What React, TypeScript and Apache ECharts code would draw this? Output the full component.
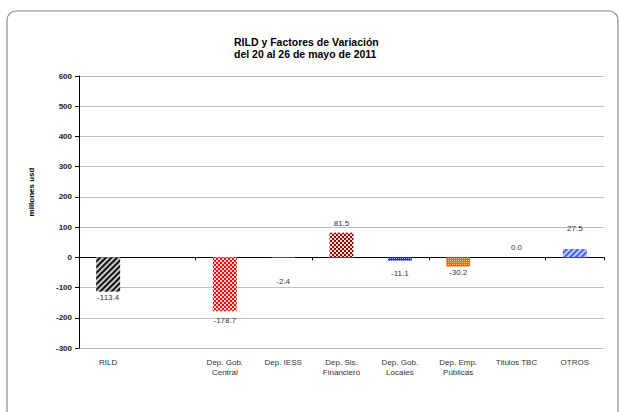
import React, { useEffect, useRef } from "react";
import * as echarts from "echarts";

const categories = [
  "RILD",
  "",
  "Dep. Gob.\nCentral",
  "Dep. IESS",
  "Dep. Sis.\nFinanciero",
  "Dep. Gob.\nLocales",
  "Dep. Emp.\nPúblicas",
  "Titulos TBC",
  "OTROS",
];
const values: (number | null)[] = [-113.4, null, -178.7, -2.4, 81.5, -11.1, -30.2, 0.0, 27.5];
const yTicks = { min: -300, max: 600, interval: 100 };

const FONT = "'Liberation Sans', Arial, sans-serif";

const hatch = (color: string, w: number, gap: number) => ({
  symbol: "rect",
  symbolSize: 1,
  color,
  dashArrayX: [1, 0],
  dashArrayY: [w, gap],
  rotation: -Math.PI / 4,
});
const checker = (color: string) => ({
  symbol: "rect",
  symbolSize: 1,
  color,
  dashArrayX: [[2, 2], [0, 2, 2, 0]],
  dashArrayY: [2, 0],
  rotation: 0,
});
const dots = (color: string) => ({
  symbol: "rect",
  symbolSize: 1,
  color,
  dashArrayX: [1, 1],
  dashArrayY: [1, 1],
  rotation: 0,
});

const barStyles: any[] = [
  { color: "#c8c8c8", decal: hatch("#111111", 1.5, 1.2) },
  { color: "#ffffff" },
  { color: "#ffd0d0", decal: checker("#ff0000") },
  { color: "#808080" },
  { color: "#f0dada", decal: checker("#990000") },
  { color: "#2222ff", decal: dots("#ccccff") },
  { color: "#ff6600", decal: dots("#ffc08a") },
  { color: "#808080" },
  { color: "#c0ccff", decal: hatch("#4466ee", 1.3, 1.2) },
];
const labelNudges: number[] = [-1, 0, 2, 16, 2, 6, -1, 3, 14];

export default function App() {
  const ref = useRef<HTMLDivElement>(null);
  useEffect(() => {
    if (!ref.current) return;
    const chart = echarts.init(ref.current, null, { renderer: "svg" });
    const data = values.map((v, i) => {
      if (v === null) return null;
      const neg = v < 0;
      return {
        value: v,
        itemStyle: barStyles[i],
        label: {
          position: neg ? "bottom" : "top",
          offset: [0, neg ? labelNudges[i] : -labelNudges[i]],
        },
      };
    });
    chart.setOption({
      animation: false,
      backgroundColor: "#ffffff",
      textStyle: { fontFamily: FONT },
      title: {
        text: "RILD y Factores de Variación\ndel 20 al 26 de mayo de 2011",
        left: 229,
        top: 31,
        textStyle: {
          fontFamily: FONT,
          fontSize: 10.5,
          fontWeight: "bold",
          color: "#000000",
          lineHeight: 12,
        },
      },
      graphic: [
        {
          type: "rect",
          shape: { x: 7, y: 11, width: 611, height: 410, r: 9 },
          style: { fill: "none", stroke: "#8a8a8a", lineWidth: 1.2 },
          z: -1,
        },
        {
          type: "text",
          x: 31,
          y: 192,
          rotation: Math.PI / 2,
          style: {
            text: "millones usd",
            fontFamily: FONT,
            fontSize: 8,
            fontWeight: "bold",
            fill: "#000000",
            textAlign: "center",
            textVerticalAlign: "middle",
          },
        },
      ],
      grid: { left: 79, right: 15, top: 76, bottom: 64 },
      xAxis: [
        {
          type: "category",
          data: categories,
          boundaryGap: true,
          axisLine: { onZero: true, lineStyle: { color: "#000000", width: 1 } },
          axisTick: { show: true, length: 3, lineStyle: { color: "#000000" } },
          axisLabel: { show: false },
          splitLine: { show: false },
        },
        {
          type: "category",
          data: categories,
          position: "bottom",
          axisLine: { show: false, onZero: false },
          axisTick: { show: false },
          axisLabel: {
            interval: 0,
            margin: 9,
            fontSize: 8,
            color: "#333333",
            fontFamily: FONT,
            lineHeight: 10,
          },
        },
      ],
      yAxis: {
        type: "value",
        min: yTicks.min,
        max: yTicks.max,
        interval: yTicks.interval,
        axisLine: { show: true, lineStyle: { color: "#000000", width: 1 } },
        axisTick: { show: true, length: 4, lineStyle: { color: "#000000" } },
        axisLabel: {
          fontSize: 8,
          fontWeight: "bold",
          color: "#1a1a2e",
          margin: 7,
          fontFamily: FONT,
        },
        splitLine: { show: true, lineStyle: { color: "#c0c0c0", width: 1 } },
      },
      series: [
        {
          type: "bar",
          xAxisIndex: 0,
          data,
          barWidth: "41%",
          label: {
            show: true,
            distance: 3,
            fontSize: 8,
            color: "#333333",
            fontFamily: FONT,
            formatter: (p: any) => Number(p.value).toFixed(1),
          },
        },
      ],
    });
    return () => chart.dispose();
  }, []);
  return <div ref={ref} style={{ width: 619, height: 412, position: "absolute", left: 0, top: 0 }} />;
}
